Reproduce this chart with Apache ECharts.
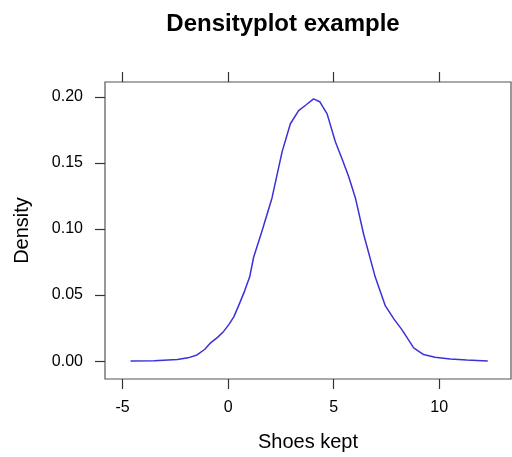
<!DOCTYPE html>
<html>
<head>
<meta charset="utf-8">
<style>
  html, body { margin: 0; padding: 0; background: #fff; }
  #chart { width: 512px; height: 457px; }
</style>
<script src="https://cdn.jsdelivr.net/npm/echarts@6/dist/echarts.min.js"></script>
</head>
<body>
<div id="chart"></div>
<script>
// density estimate of shoes kept
const shoesKept = [-4.62, -3.5, -2.4, -1.9, -1.47, -1.1, -0.84, -0.5, -0.21, 0.05, 0.27, 0.5, 0.78, 1.02, 1.21, 1.61,
    2.08, 2.56, 2.95, 3.34, 3.7, 4.05, 4.34, 4.69, 5.08, 5.4, 5.71, 6.03, 6.42, 6.97, 7.45, 7.85, 8.24, 8.79,
    9.26, 9.8, 10.52, 11.3, 12.3];
const density = [0.0001, 0.0003, 0.0012, 0.0025, 0.0047, 0.009, 0.0137, 0.018, 0.0225, 0.028, 0.0335, 0.042, 0.053,
    0.0636, 0.0786, 0.0986, 0.1235, 0.1585, 0.1796, 0.1896, 0.194, 0.1984, 0.1963, 0.1871, 0.166, 0.153, 0.1397,
    0.1235, 0.096, 0.0636, 0.0418, 0.032, 0.0237, 0.010, 0.005, 0.003, 0.0017, 0.0008, 0.0001];
const xTicks = [-5, 0, 5, 10];
const yTicks = [0, 0.05, 0.10, 0.15, 0.20];

const font = '"Liberation Sans", Arial, Helvetica, sans-serif';
const ink = '#333';

const chart = echarts.init(document.getElementById('chart'), null, { renderer: 'canvas' });

const xBase = {
    type: 'value',
    min: -5.83,
    max: 13.4,
    splitLine: { show: false },
    axisLine: { show: false, onZero: false },
    axisTick: { show: true, length: 10, customValues: xTicks, lineStyle: { color: ink, width: 1.2 } }
};

chart.setOption({
    animation: false,
    title: {
        text: 'Densityplot example',
        left: 278,
        top: 7,
        textAlign: 'center',
        textStyle: { fontFamily: font, fontSize: 24, fontWeight: 'bold', color: '#000' }
    },
    grid: {
        left: 105, right: 1, top: 82, bottom: 74,
        show: true, borderColor: '#555', borderWidth: 1.2, backgroundColor: '#fff'
    },
    xAxis: [
        Object.assign({}, xBase, {
            position: 'bottom',
            name: 'Shoes kept',
            nameLocation: 'middle',
            nameGap: 53,
            nameTextStyle: { fontFamily: font, fontSize: 20, color: '#000' },
            axisLabel: {
                customValues: xTicks, margin: 21,
                fontFamily: font, fontSize: 16, color: '#000'
            }
        }),
        Object.assign({}, xBase, {
            position: 'top',
            axisLabel: { show: false }
        })
    ],
    yAxis: {
        type: 'value',
        min: -0.0135,
        max: 0.2112,
        name: 'Density',
        nameLocation: 'middle',
        nameGap: 73,
        nameTextStyle: { fontFamily: font, fontSize: 20, color: '#000' },
        splitLine: { show: false },
        axisLine: { show: false, onZero: false },
        axisTick: { show: true, length: 10, customValues: yTicks, lineStyle: { color: ink, width: 1.2 } },
        axisLabel: {
            customValues: yTicks, margin: 22,
            fontFamily: font, fontSize: 16, color: '#000',
            formatter: v => v.toFixed(2)
        }
    },
    series: [{
        type: 'line',
        xAxisIndex: 0,
        data: shoesKept.map((x, i) => [x, density[i]]),
        showSymbol: false,
        smooth: false,
        lineStyle: { color: '#3b30d9', width: 1.5 }
    }]
});
</script>
</body>
</html>
